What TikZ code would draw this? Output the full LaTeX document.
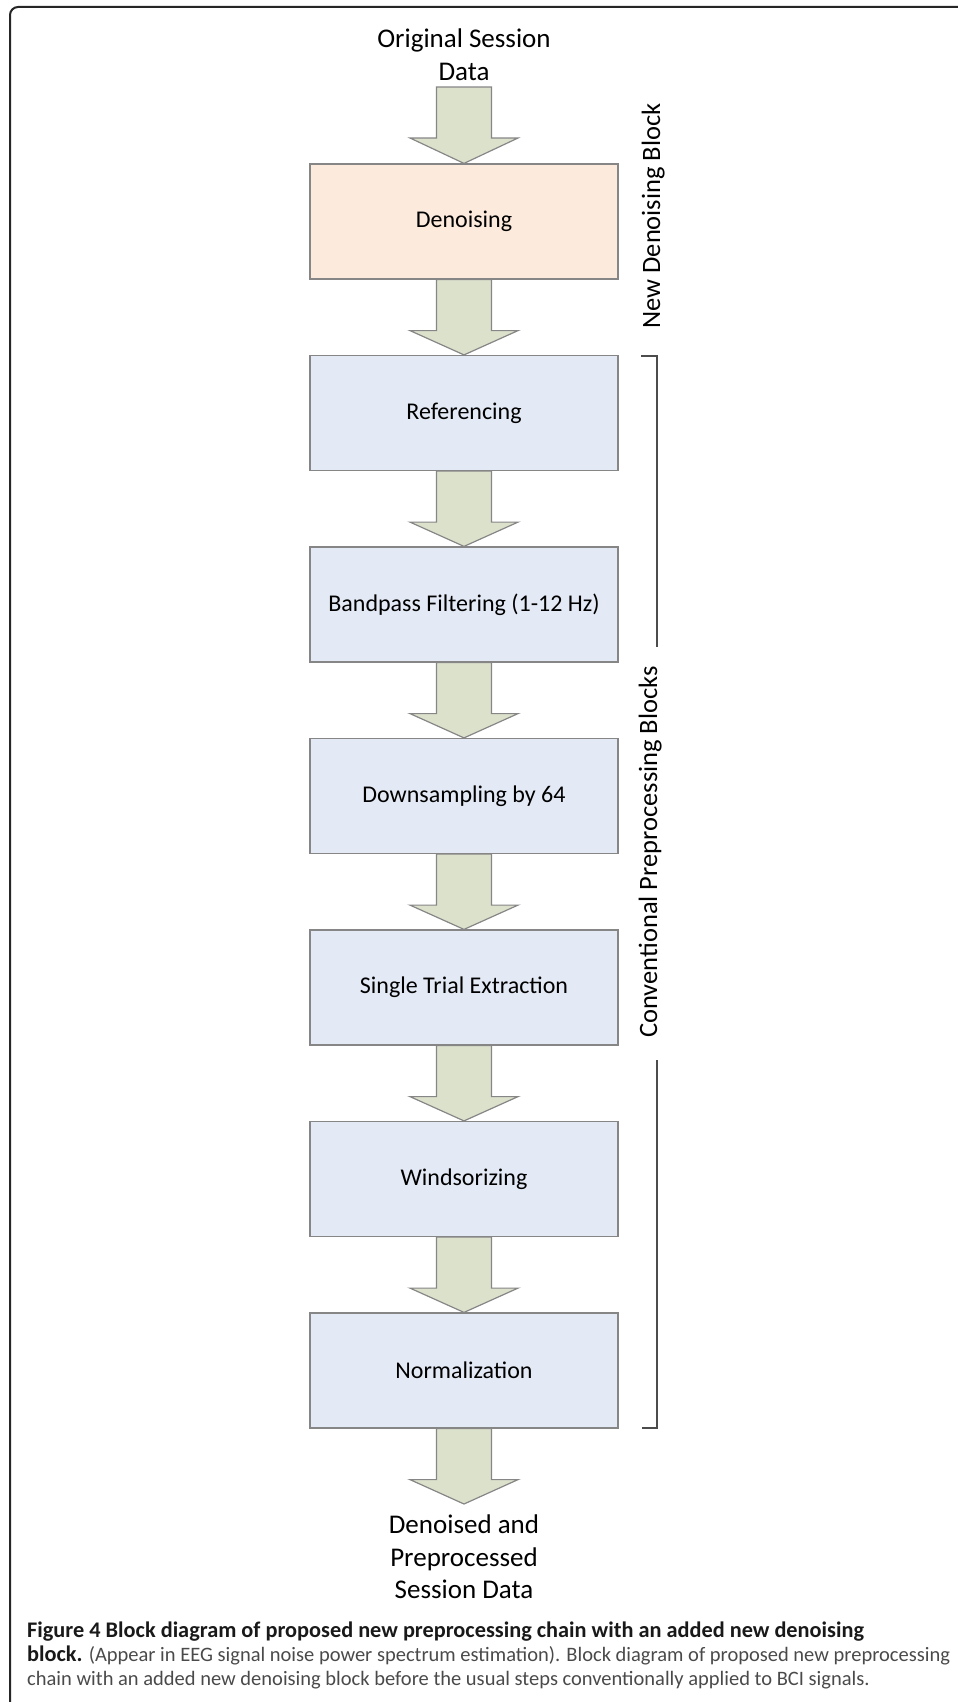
\documentclass[tikz,border=0pt]{standalone}
\usepackage{fontspec}
\setmainfont{Carlito}
\usetikzlibrary{calc}

\definecolor{peach}{HTML}{FCEADC}
\definecolor{paleblue}{HTML}{E4EAF5}
\definecolor{sage}{HTML}{DCE1CC}
\definecolor{edgegray}{HTML}{868686}
\definecolor{capgray}{HTML}{4A4A4A}

% block arrow from the bottom of one node to the top of the next
\newcommand{\fatarrow}[2]{%
  \draw[fatarrow] ($(#1)+(-27.5,0)$) -- ($(#1)+(-27.5,51)$) -- ($(#1)+(-54,51)$)
    -- (#2) -- ($(#1)+(54,51)$) -- ($(#1)+(27.5,51)$) -- ($(#1)+(27.5,0)$) -- cycle;}

\begin{document}
\begin{tikzpicture}[x=1pt, y=-1pt,
  stage/.style={draw=edgegray, line width=1.2pt, fill=paleblue, minimum width=308pt,
    minimum height=115pt, inner sep=0pt, font=\fontsize{24}{29}\selectfont},
  fatarrow/.style={draw=edgegray, line width=1.2pt, fill=sage, line join=miter},
  endlabel/.style={align=center, inner sep=0pt, anchor=north, font=\fontsize{27}{32.5}\selectfont},
  sidelabel/.style={rotate=90, anchor=base, inner sep=0pt, font=\fontsize{26.5}{30}\selectfont},
  bracket/.style={draw=black!70, line width=1.2pt},
  captext/.style={anchor=base west, inner sep=0pt, font=\fontsize{20.5}{25}\selectfont, text=capgray},
  capbold/.style={captext, text=black!90, font=\fontsize{22.3}{25}\selectfont\bfseries}]
\useasboundingbox (0,0) rectangle (958,1702);

%% frame
\draw[line width=2pt, black!85, rounded corners=8pt] (10,1702) -- (10,7) -- (958,7);

%% chain
\node[endlabel] (insess) at (464,29) {Original Session\\Data};
\coordinate (in) at (464,87);
\node[stage, fill=peach] (denoise) at (464,221.5) {Denoising};
\node[stage] (ref) at (464,413) {Referencing};
\node[stage] (band) at (464,604.5) {Bandpass Filtering (1-12 Hz)};
\node[stage] (down) at (464,796) {Downsampling by 64};
\node[stage] (trial) at (464,987.5) {Single Trial Extraction};
\node[stage] (winsor) at (464,1179) {Windsorizing};
\node[stage] (norm) at (464,1370.5) {Normalization};
\coordinate (out) at (464,1504);
\node[endlabel] (outsess) at (464,1515) {Denoised and\\Preprocessed\\Session Data};

\fatarrow{in}{denoise.north}
\fatarrow{denoise.south}{ref.north}
\fatarrow{ref.south}{band.north}
\fatarrow{band.south}{down.north}
\fatarrow{down.south}{trial.north}
\fatarrow{trial.south}{winsor.north}
\fatarrow{winsor.south}{norm.north}
\fatarrow{norm.south}{out}

%% side labels and bracket
\node[sidelabel] (newlbl) at (660,216) {New Denoising Block};
\node[sidelabel] (convlbl) at (657,852) {Conventional Preprocessing Blocks};
\draw[bracket] (641,356) -- (657,356) -- (657,647);
\draw[bracket] (657,1060) -- (657,1428) -- (642,1428);

%% caption
\node[capbold] (cap1) at (27,1637) {Figure 4 Block diagram of proposed new preprocessing chain with an added new denoising};
\node[captext] (cap2) at (27,1661) {{\fontsize{22.3}{25}\selectfont\bfseries\color{black!90}block.} (Appear in EEG signal noise power spectrum estimation). Block diagram of proposed new preprocessing};
\node[captext] (cap3) at (27,1685) {chain with an added new denoising block before the usual steps conventionally applied to BCI signals.};
\end{tikzpicture}
\end{document}
